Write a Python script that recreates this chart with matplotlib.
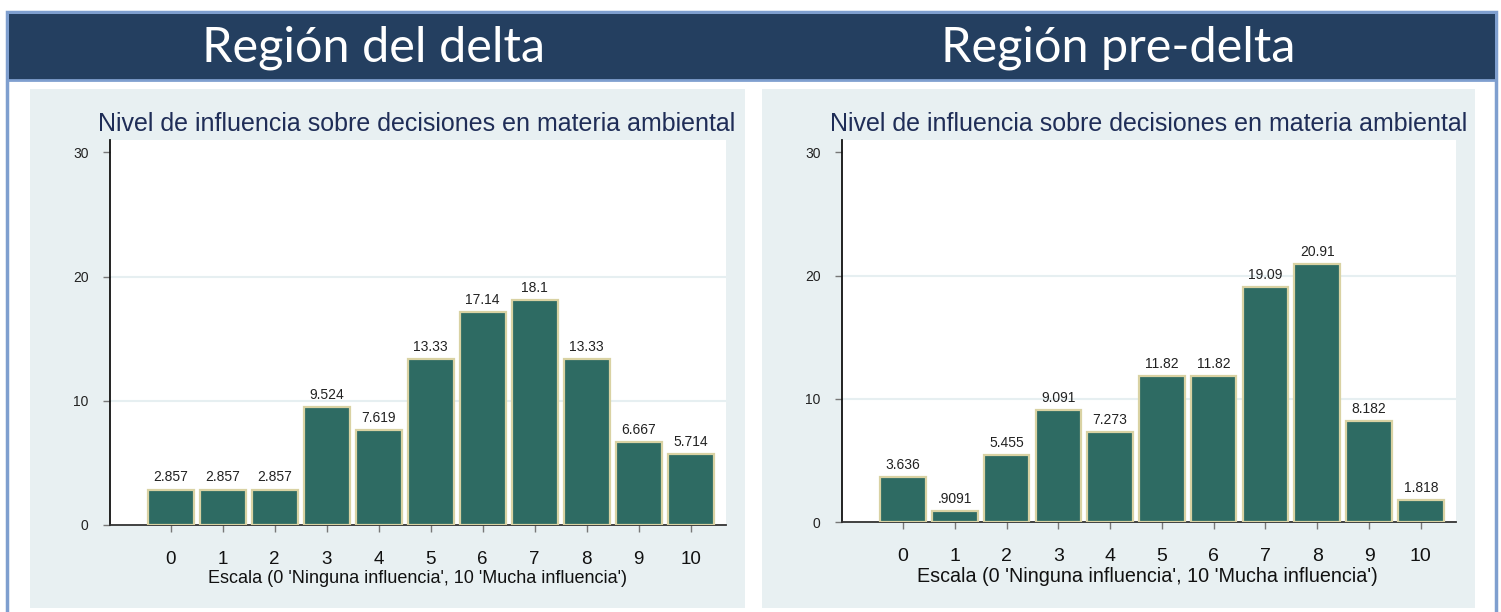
import matplotlib
matplotlib.use("Agg")
import matplotlib.pyplot as plt
from matplotlib.patches import Rectangle

# ---- data ----
categories = [0, 1, 2, 3, 4, 5, 6, 7, 8, 9, 10]
delta_vals = [2.857, 2.857, 2.857, 9.524, 7.619, 13.33, 17.14, 18.1, 13.33, 6.667, 5.714]
delta_labels = ["2.857", "2.857", "2.857", "9.524", "7.619", "13.33", "17.14", "18.1", "13.33", "6.667", "5.714"]
predelta_vals = [3.636, 0.9091, 5.455, 9.091, 7.273, 11.82, 11.82, 19.09, 20.91, 8.182, 1.818]
predelta_labels = ["3.636", ".9091", "5.455", "9.091", "7.273", "11.82", "11.82", "19.09", "20.91", "8.182", "1.818"]
yticks = [0, 10, 20, 30]
header_titles = ["Región del delta", "Región pre-delta"]
chart_title = "Nivel de influencia sobre decisiones en materia ambiental"
xlabel = "Escala (0 'Ninguna influencia', 10 'Mucha influencia')"

W, H = 1501, 612
fig = plt.figure(figsize=(W / 100, H / 100), dpi=100)
fig.patch.set_facecolor("white")

# background drawing axes in pixel coords
bg = fig.add_axes([0, 0, 1, 1])
bg.set_xlim(0, W)
bg.set_ylim(H, 0)
bg.axis("off")

border_c = "#7f9fcf"
navy = "#243f60"
panel_c = "#e8f0f2"
bar_c = "#2e6b63"
edge_c = "#d9d2a3"

# outer frame
bg.add_patch(Rectangle((7, 12), 1489, 640, facecolor="white", edgecolor=border_c, lw=2.5))
bg.add_patch(Rectangle((8.5, 13.5), 1486, 66, facecolor=navy, edgecolor="none"))
bg.plot([8, 1495], [80, 80], color=border_c, lw=2)

# panels
bg.add_patch(Rectangle((30, 89), 715, 519, facecolor=panel_c, edgecolor="none"))
bg.add_patch(Rectangle((762, 89), 713, 519, facecolor=panel_c, edgecolor="none"))

# headers
bg.text(374, 61, header_titles[0], color="white", fontsize=35, family="Lato",
        ha="center", va="baseline")
bg.text(1118, 61, header_titles[1], color="white", fontsize=35, family="Lato",
        ha="center", va="baseline")

# chart titles
bg.text(417, 131, chart_title, color="#1f2d57", fontsize=18, family="Liberation Sans",
        ha="center", va="baseline")
bg.text(1149, 131, chart_title, color="#1f2d57", fontsize=18, family="Liberation Sans",
        ha="center", va="baseline")


def px_axes(x0, x1, ytop, ybot):
    return fig.add_axes([x0 / W, 1 - ybot / H, (x1 - x0) / W, (ybot - ytop) / H])


def draw(ax, vals, labels, xlim, xt_size):
    ax.set_facecolor("white")
    ax.bar(categories, vals, width=0.88, color=bar_c, edgecolor=edge_c, linewidth=1.6, zorder=3)
    for c, v, t in zip(categories, vals, labels):
        ax.text(c, v + 0.65, t, ha="center", va="baseline", fontsize=10,
                family="Liberation Sans", color="#222222", zorder=4)
    ax.set_xlim(*xlim)
    ax.set_ylim(0, 31)
    ax.set_yticks(yticks)
    ax.set_yticklabels([str(t) for t in yticks], family="Liberation Sans", fontsize=10, color="#222222")
    ax.set_xticks(categories)
    ax.set_xticklabels([str(c) for c in categories], family="Liberation Sans", fontsize=xt_size, color="#111111")
    ax.tick_params(axis="y", length=5, width=1, color="#777777", pad=10.5)
    ax.tick_params(axis="x", length=5, width=1, color="#777777", pad=14)
    for y in [10, 20]:
        ax.axhline(y, color="#e6eff1", lw=1.5, zorder=1)
    for s in ["top", "right"]:
        ax.spines[s].set_visible(False)
    ax.spines["left"].set_color("#111111")
    ax.spines["left"].set_linewidth(1.3)
    ax.spines["bottom"].set_color("#333333")
    ax.spines["bottom"].set_linewidth(1.3)


axL = px_axes(110, 726, 140, 525)
draw(axL, delta_vals, delta_labels, (-1.167, 10.68), 13.5)
axR = px_axes(842, 1456, 140, 522)
draw(axR, predelta_vals, predelta_labels, (-1.18, 10.68), 14)

bg.text(418, 583, xlabel, ha="center", va="baseline", fontsize=13, family="Liberation Sans", color="#111111")
bg.text(1147, 582, xlabel, ha="center", va="baseline", fontsize=14.2, family="Liberation Sans", color="#111111")

fig.savefig("out.png", dpi=100)
